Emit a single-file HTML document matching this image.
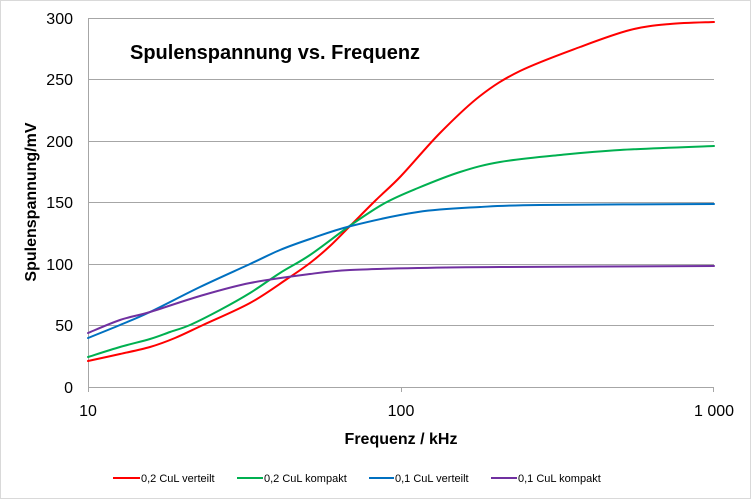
<!DOCTYPE html>
<html><head><meta charset="utf-8"><style>
body{margin:0;background:#fff}
svg text{font-family:"Liberation Sans",Arial,sans-serif}
</style></head><body>
<svg id="s" width="751" height="499" viewBox="0 0 751 499" xmlns="http://www.w3.org/2000/svg">
<rect x="0.5" y="0.5" width="750" height="498" fill="#fff" stroke="#d9d9d9"/>
<g stroke="#a6a6a6" stroke-width="1">
<line x1="88" y1="18.5" x2="714" y2="18.5"/>
<line x1="88" y1="79.5" x2="714" y2="79.5"/>
<line x1="88" y1="141.5" x2="714" y2="141.5"/>
<line x1="88" y1="202.5" x2="714" y2="202.5"/>
<line x1="88" y1="264.5" x2="714" y2="264.5"/>
<line x1="88" y1="325.5" x2="714" y2="325.5"/>
<line x1="88" y1="387.5" x2="714" y2="387.5"/>
<line x1="88.5" y1="18" x2="88.5" y2="392"/>
<line x1="401.5" y1="387" x2="401.5" y2="392"/>
<line x1="713.5" y1="387" x2="713.5" y2="392"/>
</g>
<g font-size="16" fill="#000" text-anchor="end">
<text x="73" y="24">300</text><text x="73" y="85">250</text><text x="73" y="147">200</text>
<text x="73" y="208">150</text><text x="73" y="270">100</text><text x="73" y="331">50</text><text x="73" y="393">0</text>
</g>
<g font-size="16" text-anchor="middle">
<text x="88" y="416">10</text><text x="401" y="416">100</text><text x="714" y="416">1 000</text>
</g>
<text x="401" y="444" font-size="16" font-weight="bold" text-anchor="middle">Frequenz / kHz</text>
<text transform="translate(36,202) rotate(-90)" font-size="16" font-weight="bold" text-anchor="middle">Spulenspannung/mV</text>
<text x="130" y="59" font-size="20" font-weight="bold">Spulenspannung vs. Frequenz</text>
<g fill="none" stroke-width="2" stroke-linejoin="round" stroke-linecap="round">
<path id="r" stroke="#ff0000"/>
<path id="g" stroke="#00b050"/>
<path id="b" stroke="#0070c0"/>
<path id="p" stroke="#7030a0"/>
</g>
<g stroke-width="2">
<line x1="113" y1="478" x2="140" y2="478" stroke="#ff0000"/>
<line x1="237" y1="478" x2="263" y2="478" stroke="#00b050"/>
<line x1="369" y1="478" x2="394" y2="478" stroke="#0070c0"/>
<line x1="491" y1="478" x2="517" y2="478" stroke="#7030a0"/>
</g>
<g font-size="11">
<text x="141" y="482">0,2 CuL verteilt</text>
<text x="264" y="482">0,2 CuL kompakt</text>
<text x="395" y="482">0,1 CuL verteilt</text>
<text x="518" y="482">0,1 CuL kompakt</text>
</g>
</svg>
<script>
function cr(pts){var d="M"+pts[0][0]+","+pts[0][1];for(var i=0;i<pts.length-1;i++){var p0=pts[i-1]||pts[i],p1=pts[i],p2=pts[i+1],p3=pts[i+2]||p2;
d+=" C"+(p1[0]+(p2[0]-p0[0])/6)+","+(p1[1]+(p2[1]-p0[1])/6)+" "+(p2[0]-(p3[0]-p1[0])/6)+","+(p2[1]-(p3[1]-p1[1])/6)+" "+p2[0]+","+p2[1];}return d;}
var D={
r:[[88,361],[120,354],[150,347],[175,338],[203,325],[250,303],[287,279],[310,263],[330,246],[351,225],[376,200],[401,176],[440,133],[480,96],[520,71],[580,47],[630,30],[670,24],[714,22]],
g:[[88,357],[120,347],[150,339],[170,332],[190,325],[220,310],[250,293],[280,273],[310,255],[351,225],[385,203],[418,188],[460,172],[500,162],[560,155],[620,150],[714,146]],
b:[[88,338],[120,325],[150,312],[200,287],[250,264],[280,250],[310,239],[351,226],[418,212],[480,207],[540,205],[714,204]],
p:[[88,333],[120,320],[150,312],[200,296],[250,283],[310,274],[350,270],[418,268],[500,267],[714,266]]};
for(var k in D)document.getElementById(k).setAttribute("d",cr(D[k]));
</script>
</body></html>
